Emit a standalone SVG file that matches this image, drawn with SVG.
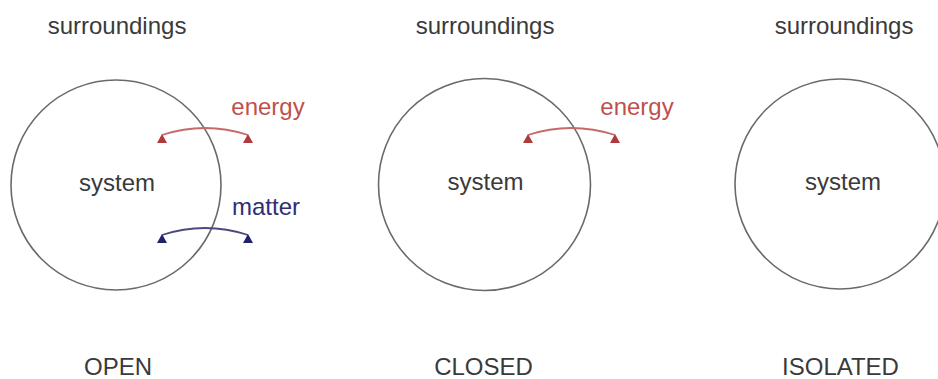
<svg xmlns="http://www.w3.org/2000/svg" width="938" height="379" viewBox="0 0 938 379">
<style>
text{font-family:"Liberation Sans",Arial,sans-serif;text-anchor:middle;}
.lbl{font-size:24px;fill:#3a3a3a;}
.sys{fill:none;stroke:#6a6a6a;stroke-width:1.6;}
.en{font-size:24px;fill:#c0504d;}
.mt{font-size:24px;fill:#2e2e78;}
.arcR{fill:none;stroke:#c46a6a;stroke-width:1.8;}
.arcB{fill:none;stroke:#4a4a80;stroke-width:1.8;}
</style>
<defs>
<marker id="triR" markerUnits="userSpaceOnUse" viewBox="0 0 10 9" refX="5" refY="1" markerWidth="10" markerHeight="9" orient="0">
<path d="M5 0 L10 9 L0 9 Z" fill="#b03a3a"/>
</marker>
<marker id="triB" markerUnits="userSpaceOnUse" viewBox="0 0 10 9" refX="5" refY="1" markerWidth="10" markerHeight="9" orient="0">
<path d="M5 0 L10 9 L0 9 Z" fill="#22226a"/>
</marker>
</defs>
<rect width="938" height="379" fill="#ffffff"/>
<g id="open">
<text class="lbl" x="117" y="34">surroundings</text>
<circle class="sys" cx="116" cy="185" r="105"/>
<text class="lbl" x="117" y="191">system</text>
<text class="en" x="268" y="115">energy</text>
<text class="mt" x="266" y="215">matter</text>
<text class="lbl" x="118" y="375">OPEN</text>
</g>
<g id="closed">
<text class="lbl" x="485" y="34">surroundings</text>
<circle class="sys" cx="484.5" cy="184.5" r="106"/>
<text class="lbl" x="485.5" y="190">system</text>
<text class="en" x="637" y="115">energy</text>
<text class="lbl" x="483.5" y="375">CLOSED</text>
</g>
<g id="isolated">
<text class="lbl" x="844" y="34">surroundings</text>
<circle class="sys" cx="840" cy="184" r="105"/>
<text class="lbl" x="843" y="190">system</text>
<text class="lbl" x="840.5" y="375">ISOLATED</text>
</g>
<g id="connectors">
<path class="arcR" d="M162 135 Q205 121 248 135" marker-start="url(#triR)" marker-end="url(#triR)"/>
<path class="arcB" d="M162 235 Q205 221 248 235" marker-start="url(#triB)" marker-end="url(#triB)"/>
<path class="arcR" d="M528 135 Q571 121 615 135" marker-start="url(#triR)" marker-end="url(#triR)"/>
</g>
</svg>
